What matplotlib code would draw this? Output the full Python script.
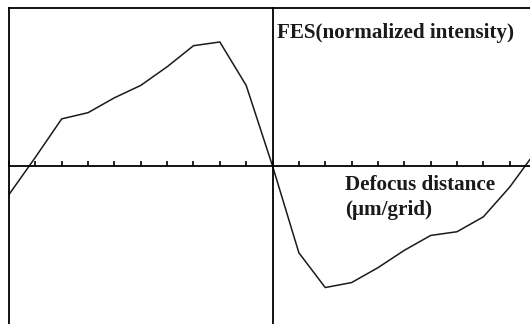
import numpy as np
import matplotlib
matplotlib.use("Agg")
import matplotlib.pyplot as plt

# defocus distance (grid units) and FES normalized intensity
defocus = [-10, -9, -8, -7, -6, -5, -4, -3, -2, -1, 0,
           1, 2, 3, 4, 5, 6, 7, 8, 9, 10]
fes = [-0.23, 0.07, 0.38, 0.43, 0.55, 0.65, 0.80, 0.97, 1.00, 0.65, 0.0,
       -0.70, -0.98, -0.94, -0.82, -0.68, -0.56, -0.53, -0.41, -0.17, 0.12]
grid_ticks = list(range(-10, 10))

plt.rcParams['font.family'] = ['Liberation Serif', 'DejaVu Serif']

fig = plt.figure(figsize=(5.3, 3.24), dpi=100)
ax = fig.add_axes([9 / 530, 0, 521 / 530, 316 / 324])

ax.plot(defocus, fes, color='#1a1a1a', lw=1.1)

ax.set_xlim(-10, 9.77)
ax.set_ylim(-1.274, 1.274)

# frame: left and top border only, axes crossing at the origin
for s in ['left', 'top']:
    ax.spines[s].set_linewidth(1.3)
ax.spines['bottom'].set_position(('data', 0))
ax.spines['bottom'].set_linewidth(1.3)
ax.spines['right'].set_position(('data', 0))
ax.spines['right'].set_linewidth(1.3)

ax.set_xticks(grid_ticks)
ax.set_xticklabels([])
ax.tick_params(axis='x', direction='in', length=3.5, width=1.2, bottom=True, top=False)
ax.set_yticks([])

fig.text(277 / 530, 1 - 38 / 324, 'FES(normalized intensity)',
         fontsize=15.2, fontweight='bold', color='#1a1a1a', va='baseline')
fig.text(345 / 530, 1 - 190 / 324, 'Defocus distance',
         fontsize=15.2, fontweight='bold', color='#1a1a1a', va='baseline')
fig.text(345 / 530, 1 - 215 / 324, '(\u03bcm/grid)',
         fontsize=15.2, fontweight='bold', color='#1a1a1a', va='baseline')

fig.savefig('out.png', dpi=100)
